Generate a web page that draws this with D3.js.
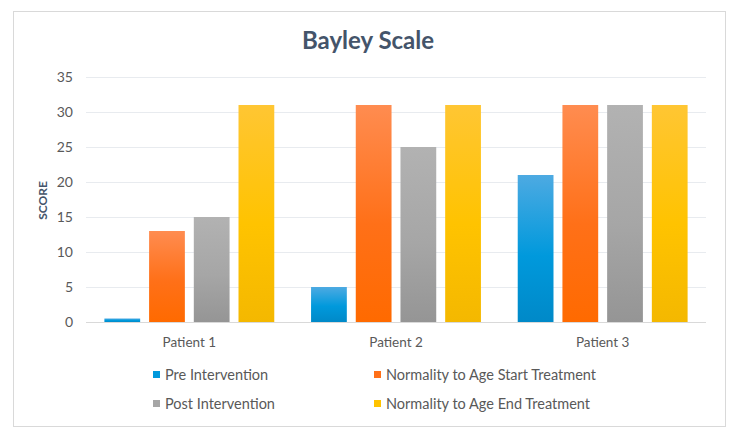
<!DOCTYPE html>
<html>
<head>
<meta charset="utf-8">
<script src="https://cdn.jsdelivr.net/npm/d3@7"></script>
<style>
  html, body { margin: 0; padding: 0; background: #fff; }
  text { font-family: Lato, "Open Sans", sans-serif; }
</style>
</head>
<body>
<script>
const patients = ["Patient 1", "Patient 2", "Patient 3"];
const seriesNames = [
  "Pre Intervention",
  "Normality to Age Start Treatment",
  "Post Intervention",
  "Normality to Age End Treatment",
];
const preIntervention = [0.5, 5, 21];
const startTreatment = [13, 31, 31];
const postIntervention = [15, 25, 31];
const endTreatment = [31, 31, 31];
const yTicks = [0, 5, 10, 15, 20, 25, 30, 35];

// gradient stops per series: top, middle, bottom
const seriesColors = [
  ["#4daae2", "#0099dc", "#0089c8"],
  ["#ff8c50", "#ff7018", "#ff6a00"],
  ["#b2b2b2", "#a6a6a6", "#959595"],
  ["#ffc633", "#ffc300", "#f4b800"],
];

const width = 732, height = 439;
const margin = { top: 77, right: 26, bottom: 117, left: 86 };

const svg = d3.select("body").append("svg")
  .attr("width", width)
  .attr("height", height);

// chart frame
svg.append("rect")
  .attr("x", 13.5).attr("y", 11.5)
  .attr("width", 712).attr("height", 415)
  .attr("fill", "#fff")
  .attr("stroke", "#d9d9d9");

const defs = svg.append("defs");
seriesColors.forEach((c, i) => {
  const g = defs.append("linearGradient")
    .attr("id", "grad" + i)
    .attr("x1", 0).attr("y1", 0).attr("x2", 0).attr("y2", 1);
  g.append("stop").attr("offset", "0%").attr("stop-color", c[0]);
  g.append("stop").attr("offset", "55%").attr("stop-color", c[1]);
  g.append("stop").attr("offset", "100%").attr("stop-color", c[2]);
});

const x0 = d3.scaleBand()
  .domain(patients)
  .range([margin.left, width - margin.right])
  .paddingInner(0.178)
  .paddingOuter(0.089);

const x1 = d3.scaleBand()
  .domain(d3.range(seriesNames.length))
  .range([0, x0.bandwidth()])
  .paddingInner(0.2);

const y = d3.scaleLinear()
  .domain([0, 35])
  .range([height - margin.bottom, margin.top]);

// gridlines
svg.append("g")
  .selectAll("line")
  .data(yTicks)
  .join("line")
  .attr("x1", margin.left).attr("x2", width - margin.right)
  .attr("y1", d => Math.round(y(d)) + 0.5)
  .attr("y2", d => Math.round(y(d)) + 0.5)
  .attr("stroke", d => d === 0 ? "#d9d9d9" : "#e8ebef")
  .attr("stroke-width", 1);

// y tick labels
svg.append("g")
  .selectAll("text")
  .data(yTicks)
  .join("text")
  .attr("x", 73)
  .attr("y", d => y(d))
  .attr("dy", "0.35em")
  .attr("text-anchor", "end")
  .attr("font-size", "14px")
  .attr("fill", "#595959")
  .text(d => d);

// y axis title
svg.append("text")
  .attr("transform", `translate(47,${y(17.5) + 1}) rotate(-90)`)
  .attr("text-anchor", "middle")
  .attr("font-size", "12px")
  .attr("font-weight", "bold")
  .attr("fill", "#44546a")
  .text("SCORE");

// bars
const allSeries = [preIntervention, startTreatment, postIntervention, endTreatment];
const groups = svg.append("g")
  .selectAll("g")
  .data(patients)
  .join("g")
  .attr("transform", d => `translate(${x0(d)},0)`);

groups.selectAll("rect")
  .data((d, pi) => allSeries.map((s, si) => ({ si, v: s[pi] })))
  .join("rect")
  .attr("x", d => x1(d.si))
  .attr("width", x1.bandwidth())
  .attr("y", d => y(d.v))
  .attr("height", d => y(0) - y(d.v))
  .attr("fill", d => `url(#grad${d.si})`);

// category labels
svg.append("g")
  .selectAll("text")
  .data(patients)
  .join("text")
  .attr("x", d => x0(d) + x0.bandwidth() / 2)
  .attr("y", 347)
  .attr("text-anchor", "middle")
  .attr("font-size", "13.5px")
  .attr("fill", "#595959")
  .text(d => d);

// title
svg.append("text")
  .attr("x", 368)
  .attr("y", 49)
  .attr("text-anchor", "middle")
  .attr("font-size", "24px")
  .attr("font-weight", "bold")
  .attr("fill", "#44546a")
  .text("Bayley Scale");

// legend (2 columns x 2 rows)
const legendPos = [
  { x: 153, y: 375 },
  { x: 374, y: 375 },
  { x: 153, y: 404 },
  { x: 374, y: 404 },
];
const legend = svg.append("g")
  .selectAll("g")
  .data(seriesNames)
  .join("g")
  .attr("transform", (d, i) => `translate(${legendPos[i].x},${legendPos[i].y})`);

legend.append("rect")
  .attr("x", 0).attr("y", -4)
  .attr("width", 7).attr("height", 7)
  .attr("fill", (d, i) => seriesColors[i][1]);

legend.append("text")
  .attr("x", 12)
  .attr("y", 0)
  .attr("dy", "0.35em")
  .attr("font-size", "14.5px")
  .attr("fill", "#595959")
  .text(d => d);
</script>
</body>
</html>
